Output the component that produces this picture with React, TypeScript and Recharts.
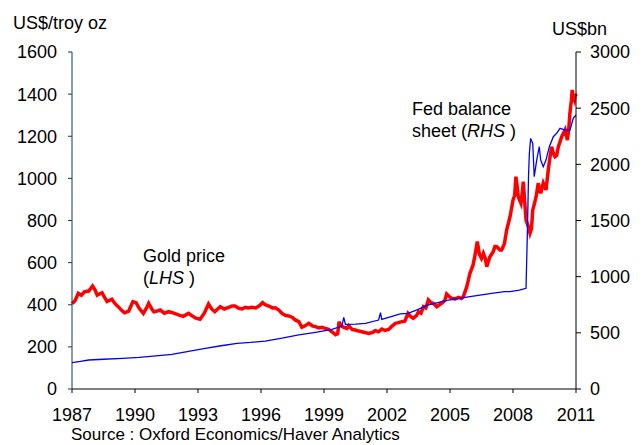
import { LineChart, Line, XAxis, YAxis } from "recharts";

// gold price, US$/troy oz (left axis)
const goldYears = [
  1987.0, 1987.15, 1987.3, 1987.45, 1987.6, 1987.8, 1987.98, 1988.1, 1988.2, 1988.43, 1988.55, 1988.67,
  1988.9, 1989.05, 1989.2, 1989.35, 1989.5, 1989.7, 1989.9, 1990.05, 1990.2, 1990.4, 1990.55, 1990.65,
  1990.8, 1990.9, 1991.05, 1991.2, 1991.4, 1991.6, 1991.85, 1992.1, 1992.3, 1992.55, 1992.75, 1992.9,
  1993.1, 1993.3, 1993.5, 1993.65, 1993.8, 1994.06, 1994.25, 1994.46, 1994.62, 1994.76, 1994.94, 1995.1,
  1995.25, 1995.4, 1995.57, 1995.75, 1995.9, 1996.08, 1996.2, 1996.37, 1996.55, 1996.68, 1996.85, 1997.0,
  1997.15, 1997.32, 1997.5, 1997.63, 1997.8, 1997.95, 1998.1, 1998.27, 1998.45, 1998.59, 1998.75, 1998.9,
  1999.05, 1999.22, 1999.4, 1999.55, 1999.65, 1999.72, 1999.8, 1999.94, 2000.1, 2000.18, 2000.35, 2000.49,
  2000.65, 2000.8, 2000.95, 2001.13, 2001.3, 2001.44, 2001.6, 2001.76, 2001.9, 2002.08, 2002.25, 2002.4,
  2002.55, 2002.7, 2002.85, 2003.0, 2003.12, 2003.25, 2003.4, 2003.5, 2003.62, 2003.73, 2003.85, 2003.97,
  2004.1, 2004.2, 2004.37, 2004.5, 2004.6, 2004.75, 2004.84, 2004.95, 2005.08, 2005.25, 2005.4, 2005.55,
  2005.63, 2005.8, 2005.95, 2006.1, 2006.2, 2006.3, 2006.4, 2006.5, 2006.59, 2006.68, 2006.75, 2006.9,
  2007.05, 2007.14, 2007.22, 2007.38, 2007.46, 2007.59, 2007.7, 2007.86, 2008.0, 2008.08, 2008.14, 2008.2,
  2008.25, 2008.38, 2008.44, 2008.49, 2008.55, 2008.62, 2008.73, 2008.81, 2008.88, 2008.94, 2009.02, 2009.1,
  2009.2, 2009.32, 2009.44, 2009.57, 2009.68, 2009.76, 2009.84, 2009.92, 2010.0, 2010.08, 2010.16, 2010.32,
  2010.48, 2010.59, 2010.66, 2010.71, 2010.78, 2010.82, 2010.87, 2010.92, 2010.97, 2011.0,
];
const goldPrice = [
  405, 420, 454, 445, 462, 465, 489, 470, 446, 457, 435, 415,
  426, 405, 391, 375, 362, 370, 415, 410, 383, 359, 385, 407,
  380, 367, 370, 375, 360, 367, 360, 351, 345, 359, 345, 336,
  331, 360, 404, 380, 367, 391, 380, 388, 394, 394, 383, 380,
  388, 385, 388, 385, 394, 410, 400, 394, 385, 386, 375, 359,
  350, 347, 340, 328, 320, 293, 300, 312, 300, 296, 290, 293,
  288, 283, 270, 258, 262, 320, 300, 293, 288, 300, 282, 280,
  275, 272, 268, 264, 268, 277, 272, 285, 278, 283, 300, 312,
  315, 320, 322, 359, 345, 336, 348, 367, 360, 391, 385, 423,
  410, 407, 391, 400, 407, 420, 451, 440, 430, 428, 435, 430,
  438, 486, 549, 589, 640, 700, 640, 620, 644, 620, 581, 628,
  650, 676, 676, 660, 660, 690, 755, 818, 897, 920, 1008, 960,
  913, 882, 930, 984, 900, 802, 771, 739, 760, 850, 880, 913,
  977, 929, 977, 945, 1040, 1100, 1150, 1120, 1103, 1110, 1150, 1198,
  1230, 1182, 1240, 1309, 1370, 1420, 1385, 1372, 1400, 1390,
];

// Fed balance sheet, US$bn (right axis)
const fedYears = [
  1987.0, 1987.4, 1987.8, 1988.5, 1989.4, 1990.2, 1991.0, 1991.76, 1992.55, 1993.35, 1994.1, 1994.86,
  1995.5, 1996.2, 1997.0, 1997.8, 1998.6, 1999.38, 1999.85, 1999.94, 2000.02, 2000.5, 2000.97, 2001.6,
  2001.69, 2001.75, 2002.2, 2002.63, 2003.0, 2003.4, 2003.97, 2004.92, 2005.95, 2006.98, 2007.6, 2007.86,
  2008.3, 2008.62, 2008.68, 2008.74, 2008.78, 2008.84, 2008.94, 2009.01, 2009.13, 2009.25, 2009.32, 2009.44,
  2009.57, 2009.73, 2009.92, 2010.08, 2010.24, 2010.48, 2010.71, 2010.87, 2011.0,
];
const fedAssets = [
  234, 245, 258, 265, 273, 282, 295, 309, 335, 362, 385, 407,
  415, 427, 452, 481, 505, 531, 560, 638, 575, 578, 585, 614,
  679, 620, 645, 668, 674, 703, 748, 792, 822, 852, 866, 866,
  880, 896, 1356, 1900, 2098, 2231, 2186, 1890, 2038, 2157, 2038, 1979,
  2038, 2157, 2246, 2276, 2320, 2305, 2305, 2409, 2439,
];

const yearTicks = [1987, 1990, 1993, 1996, 1999, 2002, 2005, 2008, 2011];
const goldTicks = [0, 200, 400, 600, 800, 1000, 1200, 1400, 1600];
const fedTicks = [0, 500, 1000, 1500, 2000, 2500, 3000];

const goldData = goldYears.map((t, i) => ({ t, v: goldPrice[i] }));
const fedData = fedYears.map((t, i) => ({ t, v: fedAssets[i] }));

const FONT = '"Liberation Sans", Arial, sans-serif';
const tick = { fill: "#000", fontSize: 18, fontFamily: FONT };

export default function App() {
  return (
    <div style={{ position: "absolute", left: 0, top: 0, width: 643, height: 445, background: "#fff", fontFamily: FONT }}>
      <LineChart width={643} height={445} margin={{ top: 52, right: 5, bottom: 26, left: 0 }}>
        <XAxis
          dataKey="t"
          type="number"
          domain={[1987, 2011]}
          ticks={yearTicks}
          allowDuplicatedCategory={false}
          tick={tick}
          stroke="#000"
          tickSize={4}
          tickMargin={15}
          height={30}
        />
        <YAxis
          yAxisId="gold"
          orientation="left"
          domain={[0, 1600]}
          ticks={goldTicks}
          tick={tick}
          stroke="#0b3d5c"
          tickSize={4}
          tickMargin={11}
          width={72}
        />
        <YAxis
          yAxisId="fed"
          orientation="right"
          domain={[0, 3000]}
          ticks={fedTicks}
          tick={tick}
          stroke="#000"
          tickSize={5}
          tickMargin={9}
          width={62}
        />
        <Line
          yAxisId="gold"
          data={goldData}
          dataKey="v"
          type="linear"
          stroke="#ff0000"
          strokeWidth={3.5}
          dot={false}
          isAnimationActive={false}
        />
        <Line
          yAxisId="fed"
          data={fedData}
          dataKey="v"
          type="linear"
          stroke="#0000ff"
          strokeWidth={1.3}
          dot={false}
          isAnimationActive={false}
        />
      </LineChart>
      <svg width={643} height={445} style={{ position: "absolute", left: 0, top: 0, pointerEvents: "none" }}>
        <g fontFamily={FONT} fontSize={18} fill="#000">
          <text x={13} y={29}>US$/troy oz</text>
          <text x={552} y={35}>US$bn</text>
          <text x={143} y={262}>Gold price</text>
          <text x={143} y={284}>
            (<tspan fontStyle="italic">LHS</tspan> )
          </text>
          <text x={412} y={115}>Fed balance</text>
          <text x={412} y={137}>
            sheet (<tspan fontStyle="italic">RHS</tspan> )
          </text>
          <text x={71} y={440} fontSize={17}>Source : Oxford Economics/Haver Analytics</text>
        </g>
      </svg>
    </div>
  );
}
